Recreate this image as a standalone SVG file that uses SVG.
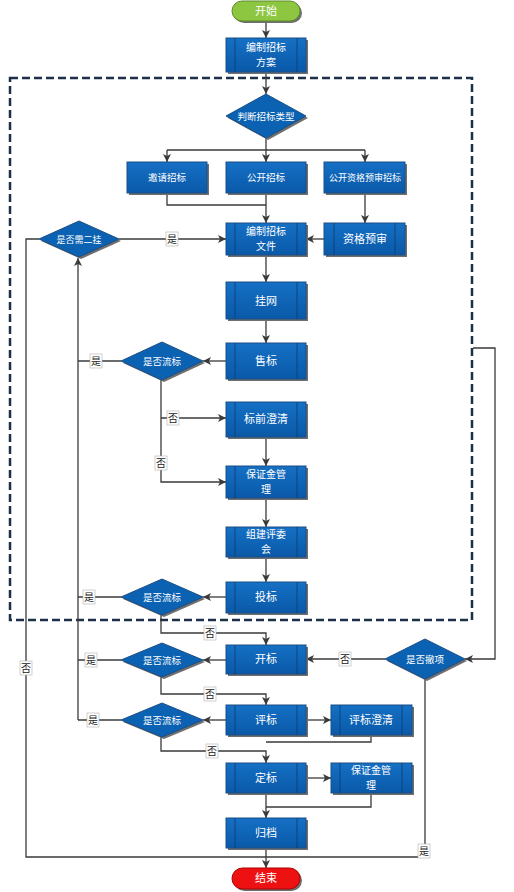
<svg xmlns="http://www.w3.org/2000/svg" width="514" height="892" viewBox="0 0 514 892">
<defs>
<linearGradient id="bg" x1="0" y1="0" x2="0" y2="1"><stop offset="0" stop-color="#1570c4"/><stop offset="1" stop-color="#0a59a8"/></linearGradient>
<marker id="ah" markerWidth="10" markerHeight="10" refX="9" refY="5" orient="auto" markerUnits="userSpaceOnUse"><path d="M1,1 L9,5 L1,9 L3,5 Z" fill="#3a3a3a"/></marker>
</defs>
<style>
.box{fill:url(#bg);stroke:#1c4f86;stroke-width:1}
.sh{fill:#6f6f6f}
.in{stroke:#0a3d70;stroke-width:0.8}
.dia{fill:#0b62b2;stroke:#1c4f86;stroke-width:1}
.t{font-family:"Noto Sans CJK SC","Noto Sans",sans-serif;fill:#fff;font-size:11px;text-anchor:middle}
.t2{font-size:10px}
.ts{font-size:9.5px}
.ln{fill:none;stroke:#3a3a3a;stroke-width:1.3}
.ar{fill:none;stroke:#3a3a3a;stroke-width:1.3;marker-end:url(#ah)}
.lb{fill:#fff;stroke:#b0b0b0;stroke-width:0.6}
.lt{font-family:"Noto Sans CJK SC",sans-serif;font-size:10px;fill:#222;text-anchor:middle}
</style>
<rect x="10" y="78" width="462" height="542" fill="none" stroke="#1e2f4a" stroke-width="2.5" stroke-dasharray="8 4"/>
<g id="connectors">
<path class="ar" d="M266,21 V38"/>
<path class="ar" d="M266,72 V94"/>
<path class="ln" d="M266,138 V150 M167,150 H365"/>
<path class="ar" d="M167,150 V162"/>
<path class="ar" d="M266,150 V162"/>
<path class="ar" d="M365,150 V162"/>
<path class="ln" d="M167,193 V205 H266"/>
<path class="ar" d="M266,193 V223"/>
<path class="ar" d="M365,193 V223"/>
<path class="ar" d="M324,239 H306"/>
<path class="ar" d="M119,239 H226"/>
<path class="ln" d="M39,239 H26 V857 H425 V679"/>
<path class="ar" d="M78,720 V258"/>
<path class="ar" d="M266,255 V282"/>
<path class="ar" d="M266,319 V343"/>
<path class="ar" d="M226,361 H203"/>
<path class="ln" d="M121,361 H78"/>
<path class="ar" d="M161,380 V482 H226"/>
<path class="ar" d="M161,418 H226"/>
<path class="ar" d="M266,437 V466"/>
<path class="ar" d="M266,498 V527"/>
<path class="ar" d="M266,557 V582"/>
<path class="ar" d="M226,597 H203"/>
<path class="ln" d="M121,597 H78"/>
<path class="ar" d="M161,615 V633 H266 V645"/>
<path class="ar" d="M226,660 H203"/>
<path class="ln" d="M121,660 H78"/>
<path class="ar" d="M161,677 V694 H266 V705"/>
<path class="ar" d="M306,720 H331"/>
<path class="ar" d="M226,720 H203"/>
<path class="ln" d="M121,720 H78"/>
<path class="ar" d="M161,737 V751 H266 V763"/>
<path class="ln" d="M371,735 V742 H266"/>
<path class="ar" d="M306,778 H331"/>
<path class="ln" d="M371,793 V807 H266"/>
<path class="ar" d="M266,793 V818"/>
<path class="ar" d="M266,848 V868"/>
<path class="ar" d="M385,659 H306"/>
<path class="ar" d="M473,348 H495 V659 H465"/>
<g>
<rect class="lb" x="166" y="232" width="12" height="14"/><text class="lt" x="172" y="243">是</text>
<rect class="lb" x="90" y="354" width="12" height="14"/><text class="lt" x="96" y="365">是</text>
<rect class="lb" x="167" y="411" width="12" height="14"/><text class="lt" x="173" y="422">否</text>
<rect class="lb" x="155" y="456" width="12" height="14"/><text class="lt" x="161" y="467">否</text>
<rect class="lb" x="83" y="590" width="12" height="14"/><text class="lt" x="89" y="601">是</text>
<rect class="lb" x="204" y="626" width="12" height="14"/><text class="lt" x="210" y="637">否</text>
<rect class="lb" x="85" y="653" width="12" height="14"/><text class="lt" x="91" y="664">是</text>
<rect class="lb" x="339" y="652" width="12" height="14"/><text class="lt" x="345" y="663">否</text>
<rect class="lb" x="20" y="661" width="12" height="14"/><text class="lt" x="26" y="672">否</text>
<rect class="lb" x="204" y="687" width="12" height="14"/><text class="lt" x="210" y="698">否</text>
<rect class="lb" x="87" y="713" width="12" height="14"/><text class="lt" x="93" y="724">是</text>
<rect class="lb" x="206" y="744" width="12" height="14"/><text class="lt" x="212" y="755">否</text>
<rect class="lb" x="418" y="844" width="12" height="14"/><text class="lt" x="424" y="855">是</text>
</g>
</g>
<g id="start"><rect x="234" y="3" width="68" height="20" rx="10" fill="#6f6f6f"/><rect x="232" y="1" width="68" height="20" rx="10" fill="#8dc641" stroke="#5d8c2a"/><text class="t" x="266" y="15">开始</text></g>
<g id="plan"><rect class="sh" x="228" y="40" width="80" height="34"/><rect class="box" x="226" y="38" width="80" height="34"/><path class="in" d="M235,38V72M297,38V72"/><text class="t t2" x="266" y="51">编制招标</text><text class="t t2" x="266" y="66">方案</text></g>
<g id="type"><polygon points="268,96 308,118 268,140 228,118" fill="#6f6f6f"/><polygon class="dia" points="266,94 306,116 266,138 226,116"/><text class="t ts" x="266" y="120">判断招标类型</text></g>
<g id="invite"><rect class="sh" x="129" y="164" width="80" height="31"/><rect class="box" x="127" y="162" width="80" height="31"/><text class="t ts" x="167" y="181">邀请招标</text></g>
<g id="open"><rect class="sh" x="228" y="164" width="80" height="31"/><rect class="box" x="226" y="162" width="80" height="31"/><text class="t ts" x="266" y="181">公开招标</text></g>
<g id="preq"><rect class="sh" x="326" y="164" width="81" height="31"/><rect class="box" x="324" y="162" width="81" height="31"/><text class="t" x="365" y="181" style="font-size:9px">公开资格预审招标</text></g>
<g id="doc"><rect class="sh" x="228" y="225" width="80" height="32"/><rect class="box" x="226" y="223" width="80" height="32"/><path class="in" d="M235,223V255M297,223V255"/><text class="t t2" x="266" y="235">编制招标</text><text class="t t2" x="266" y="250">文件</text></g>
<g id="prequal"><rect class="sh" x="326" y="225" width="81" height="32"/><rect class="box" x="324" y="223" width="81" height="32"/><path class="in" d="M334,223V255M395,223V255"/><text class="t" x="365" y="243">资格预审</text></g>
<g id="second"><polygon points="81,223 121,241 81,259 41,241" fill="#6f6f6f"/><polygon class="dia" points="79,221 119,239 79,257 39,239"/><text class="t" x="79" y="243" style="font-size:9px">是否需二挂</text></g>
<g id="post"><rect class="sh" x="228" y="284" width="80" height="37"/><rect class="box" x="226" y="282" width="80" height="37"/><path class="in" d="M235,282V319M297,282V319"/><text class="t" x="266" y="305">挂网</text></g>
<g id="sell"><rect class="sh" x="228" y="345" width="80" height="36"/><rect class="box" x="226" y="343" width="80" height="36"/><path class="in" d="M235,343V379M297,343V379"/><text class="t" x="266" y="365">售标</text></g>
<g id="fail1"><polygon points="164,344 205,363 164,382 123,363" fill="#6f6f6f"/><polygon class="dia" points="162,342 203,361 162,380 121,361"/><text class="t ts" x="162" y="365">是否流标</text></g>
<g id="clarify"><rect class="sh" x="228" y="404" width="80" height="35"/><rect class="box" x="226" y="402" width="80" height="35"/><path class="in" d="M235,402V437M297,402V437"/><text class="t" x="266" y="423">标前澄清</text></g>
<g id="deposit"><rect class="sh" x="228" y="468" width="80" height="32"/><rect class="box" x="226" y="466" width="80" height="32"/><path class="in" d="M235,466V498M297,466V498"/><text class="t t2" x="266" y="478">保证金管</text><text class="t t2" x="266" y="493">理</text></g>
<g id="committee"><rect class="sh" x="228" y="529" width="80" height="30"/><rect class="box" x="226" y="527" width="80" height="30"/><path class="in" d="M235,527V557M297,527V557"/><text class="t t2" x="266" y="538">组建评委</text><text class="t t2" x="266" y="553">会</text></g>
<g id="bid"><rect class="sh" x="228" y="584" width="80" height="31"/><rect class="box" x="226" y="582" width="80" height="31"/><path class="in" d="M235,582V613M297,582V613"/><text class="t" x="266" y="601">投标</text></g>
<g id="fail2"><polygon points="164,581 205,599 164,617 123,599" fill="#6f6f6f"/><polygon class="dia" points="162,579 203,597 162,615 121,597"/><text class="t ts" x="162" y="601">是否流标</text></g>
<g id="opening"><rect class="sh" x="228" y="647" width="80" height="29"/><rect class="box" x="226" y="645" width="80" height="29"/><path class="in" d="M235,645V674M297,645V674"/><text class="t" x="266" y="663">开标</text></g>
<g id="fail3"><polygon points="164,645 205,662 164,679 123,662" fill="#6f6f6f"/><polygon class="dia" points="162,643 203,660 162,677 121,660"/><text class="t ts" x="162" y="664">是否流标</text></g>
<g id="withdraw"><polygon points="427,641 467,661 427,681 387,661" fill="#6f6f6f"/><polygon class="dia" points="425,639 465,659 425,679 385,659"/><text class="t ts" x="425" y="663">是否撤项</text></g>
<g id="evaluate"><rect class="sh" x="228" y="707" width="80" height="30"/><rect class="box" x="226" y="705" width="80" height="30"/><path class="in" d="M235,705V735M297,705V735"/><text class="t" x="266" y="724">评标</text></g>
<g id="evalclar"><rect class="sh" x="333" y="707" width="81" height="30"/><rect class="box" x="331" y="705" width="81" height="30"/><path class="in" d="M340,705V735M402,705V735"/><text class="t" x="371" y="724">评标澄清</text></g>
<g id="fail4"><polygon points="164,705 205,722 164,739 123,722" fill="#6f6f6f"/><polygon class="dia" points="162,703 203,720 162,737 121,720"/><text class="t ts" x="162" y="724">是否流标</text></g>
<g id="award"><rect class="sh" x="228" y="765" width="80" height="30"/><rect class="box" x="226" y="763" width="80" height="30"/><path class="in" d="M235,763V793M297,763V793"/><text class="t" x="266" y="782">定标</text></g>
<g id="deposit2"><rect class="sh" x="333" y="765" width="81" height="30"/><rect class="box" x="331" y="763" width="81" height="30"/><path class="in" d="M340,763V793M402,763V793"/><text class="t t2" x="371" y="774">保证金管</text><text class="t t2" x="371" y="789">理</text></g>
<g id="archive"><rect class="sh" x="228" y="820" width="80" height="30"/><rect class="box" x="226" y="818" width="80" height="30"/><path class="in" d="M235,818V848M297,818V848"/><text class="t" x="266" y="837">归档</text></g>
<g id="end"><rect x="234" y="870" width="68" height="21" rx="10.5" fill="#6f6f6f"/><rect x="232" y="868" width="68" height="21" rx="10.5" fill="#ee1111" stroke="#a00"/><text class="t" x="266" y="882">结束</text></g>
</svg>
